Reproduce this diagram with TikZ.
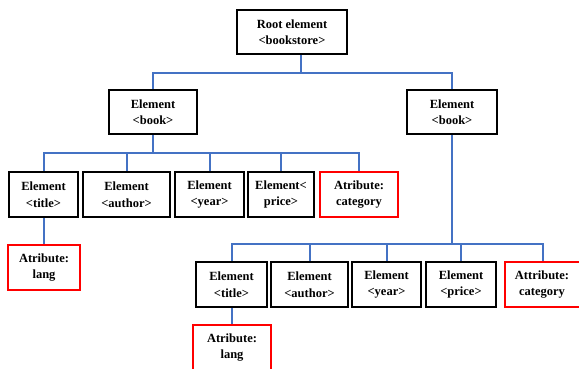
\documentclass[tikz,border=0pt]{standalone}
\usepackage{fontspec}
\setmainfont{Liberation Serif}
\definecolor{linkblue}{HTML}{4472C4}
\definecolor{attrred}{HTML}{FF0000}
\begin{document}
\begin{tikzpicture}[x=1pt,y=-1pt,
  box/.style={draw=black, line width=2.3pt, fill=white, align=center,
    inner sep=0pt, font=\bfseries\fontsize{12.5}{16.5}\selectfont},
  elem/.style={box, minimum height=44pt},
  attr/.style={box, draw=attrred, line width=2pt, minimum height=45pt},
  link/.style={draw=linkblue, line width=2pt}]
\fill[white] (0,0) rectangle (579,369);
\useasboundingbox (0,0) rectangle (579,369);

% bus levels
\coordinate (b0) at (0,73);
\coordinate (b1) at (0,153);
\coordinate (b2) at (0,244);

% root and the two books
\node[elem, minimum width=110pt] (root) at (292,32) {Root element\\<bookstore>};
\node[elem, minimum width=88pt] (bookL) at (153,112) {Element\\<book>};
\node[elem, minimum width=90pt] (bookR) at (452,112) {Element\\<book>};

% children of the first book
\node[elem, minimum width=69pt, minimum height=45pt] (title1) at (43.5,194.5) {Element\\<title>};
\node[elem, minimum width=87pt, minimum height=45pt] (author1) at (126.5,194.5) {Element\\<author>};
\node[elem, minimum width=69pt, minimum height=45pt] (year1) at (209.5,194.5) {Element\\<year>};
\node[elem, minimum width=66pt, minimum height=45pt] (price1) at (281,194.5) {Element<\\price>};
\node[attr, minimum width=78pt] (cat1) at (359,194.5) {Atribute:\\category};
\node[attr, minimum width=72pt] (lang1) at (44,267.5) {Atribute:\\lang};

% children of the second book
\node[elem, minimum width=71pt, minimum height=45pt] (title2) at (231.5,284.5) {Element\\<title>};
\node[elem, minimum width=77pt, minimum height=45pt] (author2) at (309.5,284.5) {Element\\<author>};
\node[elem, minimum width=69pt, minimum height=45pt] (year2) at (386.5,284.5) {Element\\<year>};
\node[elem, minimum width=70pt, minimum height=45pt] (price2) at (461,284.5) {Element\\<price>};
\node[attr, minimum width=75pt] (cat2) at (542,284.5) {Attribute:\\category};
\node[attr, minimum width=78pt] (lang2) at (232,347.5) {Atribute:\\lang};

% root -> books
\draw[link] ([xshift=9pt]root.south) -- ([xshift=9pt]root.south |- b0);
\draw[link] (bookL.north) -- (bookL.north |- b0) -| (bookR.north);

% first book -> children
\draw[link] (bookL.south) -- (bookL.south |- b1);
\draw[link] (title1.north) -- (title1.north |- b1) -| (cat1.north);
\foreach \n in {author1,year1,price1}
  \draw[link] (\n.north) -- (\n.north |- b1);
\draw[link] (title1.south) -- (lang1.north -| title1.south);

% second book -> children
\draw[link] (bookR.south) -- (bookR.south |- b2);
\draw[link] (title2.north) -- (title2.north |- b2) -| ([xshift=1pt]cat2.north);
\foreach \n in {author2,year2,price2}
  \draw[link] (\n.north) -- (\n.north |- b2);
\draw[link] (title2.south) -- (lang2.north -| title2.south);
\end{tikzpicture}
\end{document}
